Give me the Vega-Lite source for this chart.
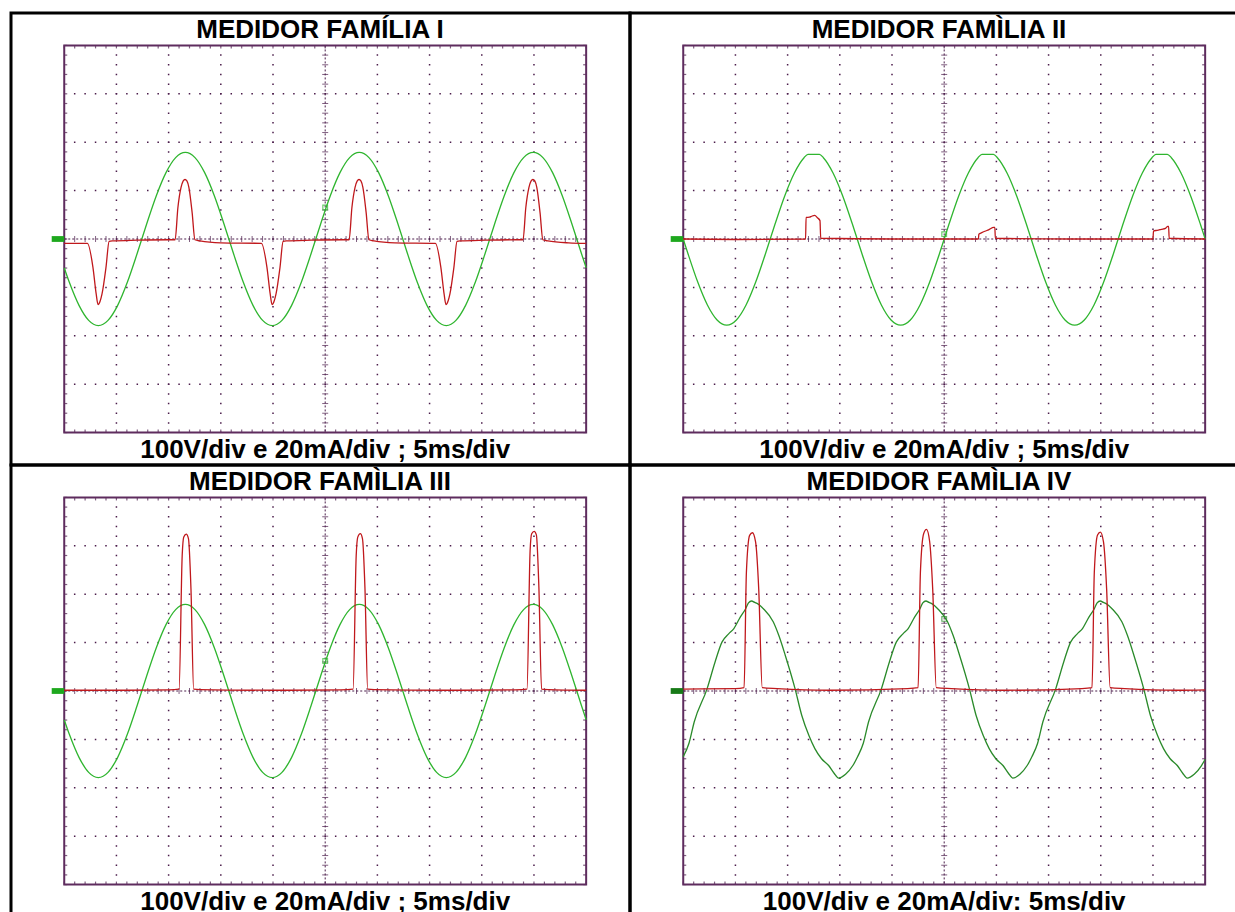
{
"$schema":"https://vega.github.io/schema/vega-lite/v6.json",
"background":"white",
"padding":{"left":9,"top":11,"right":0,"bottom":0},
"autosize":{"type":"pad"},
"config":{"view":{"stroke":"black","strokeWidth":3}},
"columns":2,
"spacing":0,
"bounds":"flush",
"datasets":{
"gridv":[{"t":5},{"t":10},{"t":15},{"t":20},{"t":30},{"t":35},{"t":40},{"t":45}],
"gridh":[{"d":-3},{"d":-2},{"d":-1},{"d":1},{"d":2},{"d":3}],
"tx":[{"t":0},{"t":1},{"t":2},{"t":3},{"t":4},{"t":5},{"t":6},{"t":7},{"t":8},{"t":9},{"t":10},{"t":11},{"t":12},{"t":13},{"t":14},{"t":15},{"t":16},{"t":17},{"t":18},{"t":19},{"t":20},{"t":21},{"t":22},{"t":23},{"t":24},{"t":25},{"t":26},{"t":27},{"t":28},{"t":29},{"t":30},{"t":31},{"t":32},{"t":33},{"t":34},{"t":35},{"t":36},{"t":37},{"t":38},{"t":39},{"t":40},{"t":41},{"t":42},{"t":43},{"t":44},{"t":45},{"t":46},{"t":47},{"t":48},{"t":49},{"t":50}],
"ty":[{"d":-4},{"d":-3.8},{"d":-3.6},{"d":-3.4},{"d":-3.2},{"d":-3},{"d":-2.8},{"d":-2.6},{"d":-2.4},{"d":-2.2},{"d":-2},{"d":-1.8},{"d":-1.6},{"d":-1.4},{"d":-1.2},{"d":-1},{"d":-0.8},{"d":-0.6},{"d":-0.4},{"d":-0.2},{"d":0},{"d":0.2},{"d":0.4},{"d":0.6},{"d":0.8},{"d":1},{"d":1.2},{"d":1.4},{"d":1.6},{"d":1.8},{"d":2},{"d":2.2},{"d":2.4},{"d":2.6},{"d":2.8},{"d":3},{"d":3.2},{"d":3.4},{"d":3.6},{"d":3.8},{"d":4}],
"v1":[{"t":0,"v":-59.6},{"t":0.489,"v":-89.5},{"t":1.415,"v":-137.1},{"t":2.341,"v":-168.2},{"t":3.267,"v":-179},{"t":4.193,"v":-168.2},{"t":5.119,"v":-137.1},{"t":6.044,"v":-89.5},{"t":6.97,"v":-31.1},{"t":7.896,"v":31.1},{"t":8.822,"v":89.5},{"t":9.748,"v":137.1},{"t":10.674,"v":168.2},{"t":11.6,"v":179},{"t":12.526,"v":168.2},{"t":13.452,"v":137.1},{"t":14.378,"v":89.5},{"t":15.304,"v":31.1},{"t":16.23,"v":-31.1},{"t":17.156,"v":-89.5},{"t":18.081,"v":-137.1},{"t":19.007,"v":-168.2},{"t":19.933,"v":-179},{"t":20.859,"v":-168.2},{"t":21.785,"v":-137.1},{"t":22.711,"v":-89.5},{"t":23.637,"v":-31.1},{"t":24.563,"v":31.1},{"t":25.489,"v":89.5},{"t":26.415,"v":137.1},{"t":27.341,"v":168.2},{"t":28.267,"v":179},{"t":29.193,"v":168.2},{"t":30.119,"v":137.1},{"t":31.044,"v":89.5},{"t":31.97,"v":31.1},{"t":32.896,"v":-31.1},{"t":33.822,"v":-89.5},{"t":34.748,"v":-137.1},{"t":35.674,"v":-168.2},{"t":36.6,"v":-179},{"t":37.526,"v":-168.2},{"t":38.452,"v":-137.1},{"t":39.378,"v":-89.5},{"t":40.304,"v":-31.1},{"t":41.23,"v":31.1},{"t":42.156,"v":89.5},{"t":43.081,"v":137.1},{"t":44.007,"v":168.2},{"t":44.933,"v":179},{"t":45.859,"v":168.2},{"t":46.785,"v":137.1},{"t":47.711,"v":89.5},{"t":48.637,"v":31.1},{"t":49.563,"v":-31.1},{"t":50,"v":-59.5}],
"v2":[{"t":0,"v":0},{"t":0.463,"v":-30.9},{"t":1.389,"v":-89},{"t":2.315,"v":-136.4},{"t":3.241,"v":-167.3},{"t":4.167,"v":-178},{"t":5.093,"v":-167.3},{"t":6.019,"v":-136.4},{"t":6.944,"v":-89},{"t":7.87,"v":-30.9},{"t":8.796,"v":30.9},{"t":9.722,"v":89},{"t":10.648,"v":136.4},{"t":11.574,"v":168},{"t":11.95,"v":175},{"t":13.05,"v":175},{"t":13.426,"v":168},{"t":14.352,"v":136.4},{"t":15.278,"v":89},{"t":16.204,"v":30.9},{"t":17.13,"v":-30.9},{"t":18.056,"v":-89},{"t":18.981,"v":-136.4},{"t":19.907,"v":-167.3},{"t":20.833,"v":-178},{"t":21.759,"v":-167.3},{"t":22.685,"v":-136.4},{"t":23.611,"v":-89},{"t":24.537,"v":-30.9},{"t":25.463,"v":30.9},{"t":26.389,"v":89},{"t":27.315,"v":136.4},{"t":28.241,"v":168},{"t":28.62,"v":175},{"t":29.72,"v":175},{"t":30.093,"v":168},{"t":31.019,"v":136.4},{"t":31.944,"v":89},{"t":32.87,"v":30.9},{"t":33.796,"v":-30.9},{"t":34.722,"v":-89},{"t":35.648,"v":-136.4},{"t":36.574,"v":-167.3},{"t":37.5,"v":-178},{"t":38.426,"v":-167.3},{"t":39.352,"v":-136.4},{"t":40.278,"v":-89},{"t":41.204,"v":-30.9},{"t":42.13,"v":30.9},{"t":43.056,"v":89},{"t":43.981,"v":136.4},{"t":44.907,"v":168},{"t":45.28,"v":175},{"t":46.38,"v":175},{"t":46.759,"v":168},{"t":47.685,"v":136.4},{"t":48.611,"v":89},{"t":49.537,"v":30.9},{"t":50,"v":0}],
"v4":[{"t":0,"v":-136},{"t":0.55,"v":-108},{"t":1.05,"v":-64},{"t":2.29,"v":5},{"t":3.05,"v":60},{"t":3.71,"v":101},{"t":4.35,"v":118},{"t":4.85,"v":129},{"t":5.45,"v":152},{"t":5.98,"v":170},{"t":6.25,"v":182},{"t":6.55,"v":186},{"t":6.85,"v":183},{"t":7.15,"v":180},{"t":7.68,"v":170},{"t":8.62,"v":143},{"t":9.15,"v":115},{"t":9.77,"v":74},{"t":10.71,"v":5},{"t":11.35,"v":-50},{"t":12.04,"v":-92},{"t":12.61,"v":-119},{"t":13.25,"v":-140},{"t":13.93,"v":-154},{"t":14.45,"v":-170},{"t":14.88,"v":-180},{"t":15.55,"v":-172},{"t":16.25,"v":-154},{"t":16.7,"v":-136},{"t":17.25,"v":-108},{"t":17.75,"v":-64},{"t":18.99,"v":5},{"t":19.75,"v":60},{"t":20.41,"v":101},{"t":21.05,"v":118},{"t":21.55,"v":129},{"t":22.15,"v":152},{"t":22.68,"v":170},{"t":22.95,"v":182},{"t":23.25,"v":186},{"t":23.55,"v":183},{"t":23.85,"v":180},{"t":24.38,"v":170},{"t":25.32,"v":143},{"t":25.85,"v":115},{"t":26.47,"v":74},{"t":27.41,"v":5},{"t":28.05,"v":-50},{"t":28.74,"v":-92},{"t":29.31,"v":-119},{"t":29.95,"v":-140},{"t":30.63,"v":-154},{"t":31.15,"v":-170},{"t":31.58,"v":-180},{"t":32.25,"v":-172},{"t":32.95,"v":-154},{"t":33.4,"v":-136},{"t":33.95,"v":-108},{"t":34.45,"v":-64},{"t":35.69,"v":5},{"t":36.45,"v":60},{"t":37.11,"v":101},{"t":37.75,"v":118},{"t":38.25,"v":129},{"t":38.85,"v":152},{"t":39.38,"v":170},{"t":39.65,"v":182},{"t":39.95,"v":186},{"t":40.25,"v":183},{"t":40.55,"v":180},{"t":41.08,"v":170},{"t":42.02,"v":143},{"t":42.55,"v":115},{"t":43.17,"v":74},{"t":44.11,"v":5},{"t":44.75,"v":-50},{"t":45.44,"v":-92},{"t":46.01,"v":-119},{"t":46.65,"v":-140},{"t":47.33,"v":-154},{"t":47.85,"v":-170},{"t":48.28,"v":-180},{"t":48.95,"v":-172},{"t":49.65,"v":-154},{"t":50,"v":-141}],
"i1":[{"t":0,"i":-1.8},{"t":2.22,"i":-1.8},{"t":2.75,"i":-11.7},{"t":3.06,"i":-22.7},{"t":3.24,"i":-27.1},{"t":3.45,"i":-25.5},{"t":3.62,"i":-22.7},{"t":4.0,"i":-11.7},{"t":4.3,"i":-1.0},{"t":4.6,"i":-0.8},{"t":7.0,"i":-0.5},{"t":10.0,"i":-0.3},{"t":10.62,"i":-0.3},{"t":10.89,"i":13},{"t":11.19,"i":21.3},{"t":11.4,"i":24},{"t":11.57,"i":24.6},{"t":11.75,"i":24},{"t":11.94,"i":21.3},{"t":12.25,"i":11},{"t":12.52,"i":-0.3},{"t":13.0,"i":-0.8},{"t":15.0,"i":-1.6},{"t":18.89,"i":-1.8},{"t":19.42,"i":-11.7},{"t":19.73,"i":-22.7},{"t":19.91,"i":-27.1},{"t":20.12,"i":-25.5},{"t":20.29,"i":-22.7},{"t":20.67,"i":-11.7},{"t":20.97,"i":-1.0},{"t":21.27,"i":-0.8},{"t":23.67,"i":-0.5},{"t":26.67,"i":-0.3},{"t":27.29,"i":-0.3},{"t":27.56,"i":13},{"t":27.86,"i":21.3},{"t":28.07,"i":24},{"t":28.24,"i":24.6},{"t":28.42,"i":24},{"t":28.61,"i":21.3},{"t":28.92,"i":11},{"t":29.19,"i":-0.3},{"t":29.67,"i":-0.8},{"t":31.67,"i":-1.6},{"t":35.56,"i":-1.8},{"t":36.08,"i":-11.7},{"t":36.39,"i":-22.7},{"t":36.57,"i":-27.1},{"t":36.78,"i":-25.5},{"t":36.95,"i":-22.7},{"t":37.33,"i":-11.7},{"t":37.63,"i":-1.0},{"t":37.93,"i":-0.8},{"t":40.33,"i":-0.5},{"t":43.33,"i":-0.3},{"t":43.95,"i":-0.3},{"t":44.22,"i":13},{"t":44.52,"i":21.3},{"t":44.73,"i":24},{"t":44.9,"i":24.6},{"t":45.08,"i":24},{"t":45.27,"i":21.3},{"t":45.58,"i":11},{"t":45.85,"i":-0.3},{"t":46.33,"i":-0.8},{"t":48.33,"i":-1.6},{"t":50,"i":-1.8}],
"i2":[{"t":0,"i":0},{"t":5,"i":-0.2},{"t":11.72,"i":0},{"t":11.77,"i":8.9},{"t":12.1,"i":9.0},{"t":12.3,"i":9.4},{"t":12.6,"i":9.8},{"t":12.85,"i":8.8},{"t":13.1,"i":7.6},{"t":13.17,"i":0.3},{"t":20,"i":0},{"t":28.28,"i":0},{"t":28.32,"i":2.0},{"t":28.6,"i":2.6},{"t":28.9,"i":3.2},{"t":29.25,"i":3.8},{"t":29.75,"i":4.8},{"t":29.85,"i":4.8},{"t":29.9,"i":0.3},{"t":37,"i":0},{"t":45.0,"i":0},{"t":45.05,"i":3.3},{"t":45.4,"i":3.6},{"t":45.8,"i":4.0},{"t":46.2,"i":4.4},{"t":46.42,"i":5.2},{"t":46.5,"i":5.2},{"t":46.55,"i":0.3},{"t":50,"i":0}],
"i3":[{"t":0,"i":0.3},{"t":5,"i":0.3},{"t":10,"i":0.5},{"t":11.0,"i":0.8},{"t":11.3,"i":56},{"t":11.45,"i":63.6},{"t":11.69,"i":64.8},{"t":11.9,"i":63},{"t":12.14,"i":42.3},{"t":12.4,"i":0.8},{"t":13,"i":0.6},{"t":20,"i":0.3},{"t":26.5,"i":0.5},{"t":27.67,"i":0.8},{"t":27.97,"i":56},{"t":28.12,"i":63.6},{"t":28.36,"i":65},{"t":28.57,"i":63},{"t":28.81,"i":42.3},{"t":29.07,"i":0.8},{"t":29.7,"i":0.6},{"t":36.7,"i":0.3},{"t":43.2,"i":0.5},{"t":44.33,"i":0.8},{"t":44.63,"i":58},{"t":44.78,"i":65},{"t":45.02,"i":66},{"t":45.23,"i":64.5},{"t":45.47,"i":43},{"t":45.73,"i":0.8},{"t":46.4,"i":0.6},{"t":50,"i":0.3}],
"i4":[{"t":0,"i":0.8},{"t":5,"i":1.0},{"t":5.83,"i":1.4},{"t":6.05,"i":49},{"t":6.36,"i":64.3},{"t":6.63,"i":65.4},{"t":6.93,"i":61.6},{"t":7.23,"i":42.3},{"t":7.57,"i":1.4},{"t":9,"i":1.0},{"t":14,"i":0.3},{"t":21.5,"i":1.0},{"t":22.5,"i":1.4},{"t":22.72,"i":49},{"t":23.03,"i":65},{"t":23.3,"i":66.8},{"t":23.6,"i":62},{"t":23.9,"i":42},{"t":24.24,"i":1.4},{"t":25.7,"i":1.0},{"t":30.7,"i":0.3},{"t":38.2,"i":1.0},{"t":39.16,"i":1.4},{"t":39.38,"i":49},{"t":39.69,"i":64.5},{"t":39.96,"i":65.7},{"t":40.26,"i":61.6},{"t":40.56,"i":42.3},{"t":40.9,"i":1.4},{"t":42.3,"i":1.0},{"t":47.3,"i":0.3},{"t":50,"i":0.5}]
},
"concat":[
{"width":619,"height":452,"resolve":{"scale":{"y":"independent"}},"layer":[
 {"layer":[
  {"data":{"name":"gridv"},"mark":{"type":"rule","color":"#4b1d4b","strokeWidth":1.5,"strokeDash":[1.5,8.18],"strokeDashOffset":0.75},"encoding":{"x":{"field":"t","type":"quantitative","scale":{"domain":[-5.1,54.2],"nice":false,"zero":false},"axis":null},"y":{"datum":4,"type":"quantitative","scale":{"domain":[-4.67,4.67],"nice":false,"zero":false},"axis":null},"y2":{"datum":-4}}},
  {"data":{"name":"gridh"},"mark":{"type":"rule","color":"#4b1d4b","strokeWidth":1.5,"strokeDash":[1.5,8.94],"strokeDashOffset":0.75},"encoding":{"x":{"datum":0,"type":"quantitative","scale":{"domain":[-5.1,54.2],"nice":false,"zero":false},"axis":null},"x2":{"datum":50},"y":{"field":"d","type":"quantitative","scale":{"domain":[-4.67,4.67],"nice":false,"zero":false},"axis":null}}},
  {"data":{"values":[{}]},"mark":{"type":"rule","color":"#4b1d4b","strokeWidth":1,"strokeDash":[2,2]},"encoding":{"x":{"datum":25,"type":"quantitative","scale":{"domain":[-5.1,54.2],"nice":false,"zero":false},"axis":null},"y":{"datum":4,"type":"quantitative","scale":{"domain":[-4.67,4.67],"nice":false,"zero":false},"axis":null},"y2":{"datum":-4}}},
  {"data":{"values":[{}]},"mark":{"type":"rule","color":"#4b1d4b","strokeWidth":1,"strokeDash":[2,2]},"encoding":{"x":{"datum":0,"type":"quantitative","scale":{"domain":[-5.1,54.2],"nice":false,"zero":false},"axis":null},"x2":{"datum":50},"y":{"datum":0,"type":"quantitative","scale":{"domain":[-4.67,4.67],"nice":false,"zero":false},"axis":null}}},
  {"data":{"name":"tx"},"mark":{"type":"tick","orient":"vertical","color":"#4b1d4b","size":6,"thickness":1},"encoding":{"x":{"field":"t","type":"quantitative","scale":{"domain":[-5.1,54.2],"nice":false,"zero":false},"axis":null},"y":{"datum":0,"type":"quantitative","scale":{"domain":[-4.67,4.67],"nice":false,"zero":false},"axis":null}}},
  {"data":{"name":"tx"},"mark":{"type":"tick","orient":"vertical","color":"#4b1d4b","size":3,"thickness":1.2,"yOffset":1.5},"encoding":{"x":{"field":"t","type":"quantitative","scale":{"domain":[-5.1,54.2],"nice":false,"zero":false},"axis":null},"y":{"datum":4,"type":"quantitative","scale":{"domain":[-4.67,4.67],"nice":false,"zero":false},"axis":null}}},
  {"data":{"name":"tx"},"mark":{"type":"tick","orient":"vertical","color":"#4b1d4b","size":3,"thickness":1.2,"yOffset":-1.5},"encoding":{"x":{"field":"t","type":"quantitative","scale":{"domain":[-5.1,54.2],"nice":false,"zero":false},"axis":null},"y":{"datum":-4,"type":"quantitative","scale":{"domain":[-4.67,4.67],"nice":false,"zero":false},"axis":null}}},
  {"data":{"name":"ty"},"mark":{"type":"tick","orient":"horizontal","color":"#4b1d4b","size":6,"thickness":1},"encoding":{"x":{"datum":25,"type":"quantitative","scale":{"domain":[-5.1,54.2],"nice":false,"zero":false},"axis":null},"y":{"field":"d","type":"quantitative","scale":{"domain":[-4.67,4.67],"nice":false,"zero":false},"axis":null}}},
  {"data":{"name":"ty"},"mark":{"type":"tick","orient":"horizontal","color":"#4b1d4b","size":3,"thickness":1.2,"xOffset":1.5},"encoding":{"x":{"datum":0,"type":"quantitative","scale":{"domain":[-5.1,54.2],"nice":false,"zero":false},"axis":null},"y":{"field":"d","type":"quantitative","scale":{"domain":[-4.67,4.67],"nice":false,"zero":false},"axis":null}}},
  {"data":{"name":"ty"},"mark":{"type":"tick","orient":"horizontal","color":"#4b1d4b","size":3,"thickness":1.2,"xOffset":-1.5},"encoding":{"x":{"datum":50,"type":"quantitative","scale":{"domain":[-5.1,54.2],"nice":false,"zero":false},"axis":null},"y":{"field":"d","type":"quantitative","scale":{"domain":[-4.67,4.67],"nice":false,"zero":false},"axis":null}}},
  {"data":{"values":[{}]},"mark":{"type":"rect","filled":false,"color":"#5e2c5e","strokeWidth":2},"encoding":{"x":{"datum":0,"type":"quantitative","scale":{"domain":[-5.1,54.2],"nice":false,"zero":false},"axis":null},"x2":{"datum":50},"y":{"datum":-4,"type":"quantitative","scale":{"domain":[-4.67,4.67],"nice":false,"zero":false},"axis":null},"y2":{"datum":4}}},
  {"data":{"values":[{}]},"mark":{"type":"rect","color":"#1ea81e"},"encoding":{"x":{"datum":-1.2,"type":"quantitative","scale":{"domain":[-5.1,54.2],"nice":false,"zero":false},"axis":null},"x2":{"datum":0},"y":{"datum":-0.06,"type":"quantitative","scale":{"domain":[-4.67,4.67],"nice":false,"zero":false},"axis":null},"y2":{"datum":0.06}}},
  {"data":{"values":[{}]},"mark":{"type":"text","text":"MEDIDOR FAMÍLIA I","font":"Liberation Sans","fontWeight":"bold","fontSize":26,"baseline":"alphabetic","align":"center","color":"black"},"encoding":{"x":{"datum":24.5,"type":"quantitative","scale":{"domain":[-5.1,54.2],"nice":false,"zero":false},"axis":null},"y":{"datum":4.16,"type":"quantitative","scale":{"domain":[-4.67,4.67],"nice":false,"zero":false},"axis":null}}},
  {"data":{"values":[{}]},"mark":{"type":"text","text":"100V/div e 20mA/div ; 5ms/div","font":"Liberation Sans","fontWeight":"bold","fontSize":26,"baseline":"alphabetic","align":"center","color":"black"},"encoding":{"x":{"datum":25,"type":"quantitative","scale":{"domain":[-5.1,54.2],"nice":false,"zero":false},"axis":null},"y":{"datum":-4.53,"type":"quantitative","scale":{"domain":[-4.67,4.67],"nice":false,"zero":false},"axis":null}}}
 ]},
 {"layer":[
  {"data":{"name":"v1"},"mark":{"type":"line","color":"#2fb52f","strokeWidth":1.3,"interpolate":"monotone"},"encoding":{"x":{"field":"t","type":"quantitative","scale":{"domain":[-5.1,54.2],"nice":false,"zero":false},"axis":null},"y":{"field":"v","type":"quantitative","scale":{"domain":[-467,467],"nice":false,"zero":false},"axis":null}}},
  {"data":{"values":[{"t":25,"v":65}]},"mark":{"type":"square","filled":false,"size":22,"color":"#2fb52f","strokeWidth":1.2},"encoding":{"x":{"field":"t","type":"quantitative","scale":{"domain":[-5.1,54.2],"nice":false,"zero":false},"axis":null},"y":{"field":"v","type":"quantitative","scale":{"domain":[-467,467],"nice":false,"zero":false},"axis":null}}}
 ]},
 {"data":{"name":"i1"},"mark":{"type":"line","color":"#c0181c","strokeWidth":1.3,"interpolate":"monotone"},"encoding":{"x":{"field":"t","type":"quantitative","scale":{"domain":[-5.1,54.2],"nice":false,"zero":false},"axis":null},"y":{"field":"i","type":"quantitative","scale":{"domain":[-93.4,93.4],"nice":false,"zero":false},"axis":null}}}
]},
{"width":619,"height":452,"resolve":{"scale":{"y":"independent"}},"layer":[
 {"layer":[
  {"data":{"name":"gridv"},"mark":{"type":"rule","color":"#4b1d4b","strokeWidth":1.5,"strokeDash":[1.5,8.18],"strokeDashOffset":0.75},"encoding":{"x":{"field":"t","type":"quantitative","scale":{"domain":[-5.1,54.2],"nice":false,"zero":false},"axis":null},"y":{"datum":4,"type":"quantitative","scale":{"domain":[-4.67,4.67],"nice":false,"zero":false},"axis":null},"y2":{"datum":-4}}},
  {"data":{"name":"gridh"},"mark":{"type":"rule","color":"#4b1d4b","strokeWidth":1.5,"strokeDash":[1.5,8.94],"strokeDashOffset":0.75},"encoding":{"x":{"datum":0,"type":"quantitative","scale":{"domain":[-5.1,54.2],"nice":false,"zero":false},"axis":null},"x2":{"datum":50},"y":{"field":"d","type":"quantitative","scale":{"domain":[-4.67,4.67],"nice":false,"zero":false},"axis":null}}},
  {"data":{"values":[{}]},"mark":{"type":"rule","color":"#4b1d4b","strokeWidth":1,"strokeDash":[2,2]},"encoding":{"x":{"datum":25,"type":"quantitative","scale":{"domain":[-5.1,54.2],"nice":false,"zero":false},"axis":null},"y":{"datum":4,"type":"quantitative","scale":{"domain":[-4.67,4.67],"nice":false,"zero":false},"axis":null},"y2":{"datum":-4}}},
  {"data":{"values":[{}]},"mark":{"type":"rule","color":"#4b1d4b","strokeWidth":1,"strokeDash":[2,2]},"encoding":{"x":{"datum":0,"type":"quantitative","scale":{"domain":[-5.1,54.2],"nice":false,"zero":false},"axis":null},"x2":{"datum":50},"y":{"datum":0,"type":"quantitative","scale":{"domain":[-4.67,4.67],"nice":false,"zero":false},"axis":null}}},
  {"data":{"name":"tx"},"mark":{"type":"tick","orient":"vertical","color":"#4b1d4b","size":6,"thickness":1},"encoding":{"x":{"field":"t","type":"quantitative","scale":{"domain":[-5.1,54.2],"nice":false,"zero":false},"axis":null},"y":{"datum":0,"type":"quantitative","scale":{"domain":[-4.67,4.67],"nice":false,"zero":false},"axis":null}}},
  {"data":{"name":"tx"},"mark":{"type":"tick","orient":"vertical","color":"#4b1d4b","size":3,"thickness":1.2,"yOffset":1.5},"encoding":{"x":{"field":"t","type":"quantitative","scale":{"domain":[-5.1,54.2],"nice":false,"zero":false},"axis":null},"y":{"datum":4,"type":"quantitative","scale":{"domain":[-4.67,4.67],"nice":false,"zero":false},"axis":null}}},
  {"data":{"name":"tx"},"mark":{"type":"tick","orient":"vertical","color":"#4b1d4b","size":3,"thickness":1.2,"yOffset":-1.5},"encoding":{"x":{"field":"t","type":"quantitative","scale":{"domain":[-5.1,54.2],"nice":false,"zero":false},"axis":null},"y":{"datum":-4,"type":"quantitative","scale":{"domain":[-4.67,4.67],"nice":false,"zero":false},"axis":null}}},
  {"data":{"name":"ty"},"mark":{"type":"tick","orient":"horizontal","color":"#4b1d4b","size":6,"thickness":1},"encoding":{"x":{"datum":25,"type":"quantitative","scale":{"domain":[-5.1,54.2],"nice":false,"zero":false},"axis":null},"y":{"field":"d","type":"quantitative","scale":{"domain":[-4.67,4.67],"nice":false,"zero":false},"axis":null}}},
  {"data":{"name":"ty"},"mark":{"type":"tick","orient":"horizontal","color":"#4b1d4b","size":3,"thickness":1.2,"xOffset":1.5},"encoding":{"x":{"datum":0,"type":"quantitative","scale":{"domain":[-5.1,54.2],"nice":false,"zero":false},"axis":null},"y":{"field":"d","type":"quantitative","scale":{"domain":[-4.67,4.67],"nice":false,"zero":false},"axis":null}}},
  {"data":{"name":"ty"},"mark":{"type":"tick","orient":"horizontal","color":"#4b1d4b","size":3,"thickness":1.2,"xOffset":-1.5},"encoding":{"x":{"datum":50,"type":"quantitative","scale":{"domain":[-5.1,54.2],"nice":false,"zero":false},"axis":null},"y":{"field":"d","type":"quantitative","scale":{"domain":[-4.67,4.67],"nice":false,"zero":false},"axis":null}}},
  {"data":{"values":[{}]},"mark":{"type":"rect","filled":false,"color":"#5e2c5e","strokeWidth":2},"encoding":{"x":{"datum":0,"type":"quantitative","scale":{"domain":[-5.1,54.2],"nice":false,"zero":false},"axis":null},"x2":{"datum":50},"y":{"datum":-4,"type":"quantitative","scale":{"domain":[-4.67,4.67],"nice":false,"zero":false},"axis":null},"y2":{"datum":4}}},
  {"data":{"values":[{}]},"mark":{"type":"rect","color":"#1ea81e"},"encoding":{"x":{"datum":-1.2,"type":"quantitative","scale":{"domain":[-5.1,54.2],"nice":false,"zero":false},"axis":null},"x2":{"datum":0},"y":{"datum":-0.06,"type":"quantitative","scale":{"domain":[-4.67,4.67],"nice":false,"zero":false},"axis":null},"y2":{"datum":0.06}}},
  {"data":{"values":[{}]},"mark":{"type":"text","text":"MEDIDOR FAMÌLIA II","font":"Liberation Sans","fontWeight":"bold","fontSize":26,"baseline":"alphabetic","align":"center","color":"black"},"encoding":{"x":{"datum":24.5,"type":"quantitative","scale":{"domain":[-5.1,54.2],"nice":false,"zero":false},"axis":null},"y":{"datum":4.16,"type":"quantitative","scale":{"domain":[-4.67,4.67],"nice":false,"zero":false},"axis":null}}},
  {"data":{"values":[{}]},"mark":{"type":"text","text":"100V/div e 20mA/div ; 5ms/div","font":"Liberation Sans","fontWeight":"bold","fontSize":26,"baseline":"alphabetic","align":"center","color":"black"},"encoding":{"x":{"datum":25,"type":"quantitative","scale":{"domain":[-5.1,54.2],"nice":false,"zero":false},"axis":null},"y":{"datum":-4.53,"type":"quantitative","scale":{"domain":[-4.67,4.67],"nice":false,"zero":false},"axis":null}}}
 ]},
 {"layer":[
  {"data":{"name":"v2"},"mark":{"type":"line","color":"#2fb52f","strokeWidth":1.3,"interpolate":"monotone"},"encoding":{"x":{"field":"t","type":"quantitative","scale":{"domain":[-5.1,54.2],"nice":false,"zero":false},"axis":null},"y":{"field":"v","type":"quantitative","scale":{"domain":[-467,467],"nice":false,"zero":false},"axis":null}}},
  {"data":{"values":[{"t":25,"v":10}]},"mark":{"type":"square","filled":false,"size":22,"color":"#2fb52f","strokeWidth":1.2},"encoding":{"x":{"field":"t","type":"quantitative","scale":{"domain":[-5.1,54.2],"nice":false,"zero":false},"axis":null},"y":{"field":"v","type":"quantitative","scale":{"domain":[-467,467],"nice":false,"zero":false},"axis":null}}}
 ]},
 {"data":{"name":"i2"},"mark":{"type":"line","color":"#c0181c","strokeWidth":1.3,"interpolate":"monotone"},"encoding":{"x":{"field":"t","type":"quantitative","scale":{"domain":[-5.1,54.2],"nice":false,"zero":false},"axis":null},"y":{"field":"i","type":"quantitative","scale":{"domain":[-93.4,93.4],"nice":false,"zero":false},"axis":null}}}
]},
{"width":619,"height":452,"resolve":{"scale":{"y":"independent"}},"layer":[
 {"layer":[
  {"data":{"name":"gridv"},"mark":{"type":"rule","color":"#4b1d4b","strokeWidth":1.5,"strokeDash":[1.5,8.18],"strokeDashOffset":0.75},"encoding":{"x":{"field":"t","type":"quantitative","scale":{"domain":[-5.1,54.2],"nice":false,"zero":false},"axis":null},"y":{"datum":4,"type":"quantitative","scale":{"domain":[-4.67,4.67],"nice":false,"zero":false},"axis":null},"y2":{"datum":-4}}},
  {"data":{"name":"gridh"},"mark":{"type":"rule","color":"#4b1d4b","strokeWidth":1.5,"strokeDash":[1.5,8.94],"strokeDashOffset":0.75},"encoding":{"x":{"datum":0,"type":"quantitative","scale":{"domain":[-5.1,54.2],"nice":false,"zero":false},"axis":null},"x2":{"datum":50},"y":{"field":"d","type":"quantitative","scale":{"domain":[-4.67,4.67],"nice":false,"zero":false},"axis":null}}},
  {"data":{"values":[{}]},"mark":{"type":"rule","color":"#4b1d4b","strokeWidth":1,"strokeDash":[2,2]},"encoding":{"x":{"datum":25,"type":"quantitative","scale":{"domain":[-5.1,54.2],"nice":false,"zero":false},"axis":null},"y":{"datum":4,"type":"quantitative","scale":{"domain":[-4.67,4.67],"nice":false,"zero":false},"axis":null},"y2":{"datum":-4}}},
  {"data":{"values":[{}]},"mark":{"type":"rule","color":"#4b1d4b","strokeWidth":1,"strokeDash":[2,2]},"encoding":{"x":{"datum":0,"type":"quantitative","scale":{"domain":[-5.1,54.2],"nice":false,"zero":false},"axis":null},"x2":{"datum":50},"y":{"datum":0,"type":"quantitative","scale":{"domain":[-4.67,4.67],"nice":false,"zero":false},"axis":null}}},
  {"data":{"name":"tx"},"mark":{"type":"tick","orient":"vertical","color":"#4b1d4b","size":6,"thickness":1},"encoding":{"x":{"field":"t","type":"quantitative","scale":{"domain":[-5.1,54.2],"nice":false,"zero":false},"axis":null},"y":{"datum":0,"type":"quantitative","scale":{"domain":[-4.67,4.67],"nice":false,"zero":false},"axis":null}}},
  {"data":{"name":"tx"},"mark":{"type":"tick","orient":"vertical","color":"#4b1d4b","size":3,"thickness":1.2,"yOffset":1.5},"encoding":{"x":{"field":"t","type":"quantitative","scale":{"domain":[-5.1,54.2],"nice":false,"zero":false},"axis":null},"y":{"datum":4,"type":"quantitative","scale":{"domain":[-4.67,4.67],"nice":false,"zero":false},"axis":null}}},
  {"data":{"name":"tx"},"mark":{"type":"tick","orient":"vertical","color":"#4b1d4b","size":3,"thickness":1.2,"yOffset":-1.5},"encoding":{"x":{"field":"t","type":"quantitative","scale":{"domain":[-5.1,54.2],"nice":false,"zero":false},"axis":null},"y":{"datum":-4,"type":"quantitative","scale":{"domain":[-4.67,4.67],"nice":false,"zero":false},"axis":null}}},
  {"data":{"name":"ty"},"mark":{"type":"tick","orient":"horizontal","color":"#4b1d4b","size":6,"thickness":1},"encoding":{"x":{"datum":25,"type":"quantitative","scale":{"domain":[-5.1,54.2],"nice":false,"zero":false},"axis":null},"y":{"field":"d","type":"quantitative","scale":{"domain":[-4.67,4.67],"nice":false,"zero":false},"axis":null}}},
  {"data":{"name":"ty"},"mark":{"type":"tick","orient":"horizontal","color":"#4b1d4b","size":3,"thickness":1.2,"xOffset":1.5},"encoding":{"x":{"datum":0,"type":"quantitative","scale":{"domain":[-5.1,54.2],"nice":false,"zero":false},"axis":null},"y":{"field":"d","type":"quantitative","scale":{"domain":[-4.67,4.67],"nice":false,"zero":false},"axis":null}}},
  {"data":{"name":"ty"},"mark":{"type":"tick","orient":"horizontal","color":"#4b1d4b","size":3,"thickness":1.2,"xOffset":-1.5},"encoding":{"x":{"datum":50,"type":"quantitative","scale":{"domain":[-5.1,54.2],"nice":false,"zero":false},"axis":null},"y":{"field":"d","type":"quantitative","scale":{"domain":[-4.67,4.67],"nice":false,"zero":false},"axis":null}}},
  {"data":{"values":[{}]},"mark":{"type":"rect","filled":false,"color":"#5e2c5e","strokeWidth":2},"encoding":{"x":{"datum":0,"type":"quantitative","scale":{"domain":[-5.1,54.2],"nice":false,"zero":false},"axis":null},"x2":{"datum":50},"y":{"datum":-4,"type":"quantitative","scale":{"domain":[-4.67,4.67],"nice":false,"zero":false},"axis":null},"y2":{"datum":4}}},
  {"data":{"values":[{}]},"mark":{"type":"rect","color":"#1ea81e"},"encoding":{"x":{"datum":-1.2,"type":"quantitative","scale":{"domain":[-5.1,54.2],"nice":false,"zero":false},"axis":null},"x2":{"datum":0},"y":{"datum":-0.06,"type":"quantitative","scale":{"domain":[-4.67,4.67],"nice":false,"zero":false},"axis":null},"y2":{"datum":0.06}}},
  {"data":{"values":[{}]},"mark":{"type":"text","text":"MEDIDOR FAMÌLIA III","font":"Liberation Sans","fontWeight":"bold","fontSize":26,"baseline":"alphabetic","align":"center","color":"black"},"encoding":{"x":{"datum":24.5,"type":"quantitative","scale":{"domain":[-5.1,54.2],"nice":false,"zero":false},"axis":null},"y":{"datum":4.16,"type":"quantitative","scale":{"domain":[-4.67,4.67],"nice":false,"zero":false},"axis":null}}},
  {"data":{"values":[{}]},"mark":{"type":"text","text":"100V/div e 20mA/div ; 5ms/div","font":"Liberation Sans","fontWeight":"bold","fontSize":26,"baseline":"alphabetic","align":"center","color":"black"},"encoding":{"x":{"datum":25,"type":"quantitative","scale":{"domain":[-5.1,54.2],"nice":false,"zero":false},"axis":null},"y":{"datum":-4.53,"type":"quantitative","scale":{"domain":[-4.67,4.67],"nice":false,"zero":false},"axis":null}}}
 ]},
 {"layer":[
  {"data":{"name":"v1"},"mark":{"type":"line","color":"#2fb52f","strokeWidth":1.3,"interpolate":"monotone"},"encoding":{"x":{"field":"t","type":"quantitative","scale":{"domain":[-5.1,54.2],"nice":false,"zero":false},"axis":null},"y":{"field":"v","type":"quantitative","scale":{"domain":[-467,467],"nice":false,"zero":false},"axis":null}}},
  {"data":{"values":[{"t":25,"v":62}]},"mark":{"type":"square","filled":false,"size":22,"color":"#2fb52f","strokeWidth":1.2},"encoding":{"x":{"field":"t","type":"quantitative","scale":{"domain":[-5.1,54.2],"nice":false,"zero":false},"axis":null},"y":{"field":"v","type":"quantitative","scale":{"domain":[-467,467],"nice":false,"zero":false},"axis":null}}}
 ]},
 {"data":{"name":"i3"},"mark":{"type":"line","color":"#c0181c","strokeWidth":1.3,"interpolate":"monotone"},"encoding":{"x":{"field":"t","type":"quantitative","scale":{"domain":[-5.1,54.2],"nice":false,"zero":false},"axis":null},"y":{"field":"i","type":"quantitative","scale":{"domain":[-93.4,93.4],"nice":false,"zero":false},"axis":null}}}
]},
{"width":619,"height":452,"resolve":{"scale":{"y":"independent"}},"layer":[
 {"layer":[
  {"data":{"name":"gridv"},"mark":{"type":"rule","color":"#4b1d4b","strokeWidth":1.5,"strokeDash":[1.5,8.18],"strokeDashOffset":0.75},"encoding":{"x":{"field":"t","type":"quantitative","scale":{"domain":[-5.1,54.2],"nice":false,"zero":false},"axis":null},"y":{"datum":4,"type":"quantitative","scale":{"domain":[-4.67,4.67],"nice":false,"zero":false},"axis":null},"y2":{"datum":-4}}},
  {"data":{"name":"gridh"},"mark":{"type":"rule","color":"#4b1d4b","strokeWidth":1.5,"strokeDash":[1.5,8.94],"strokeDashOffset":0.75},"encoding":{"x":{"datum":0,"type":"quantitative","scale":{"domain":[-5.1,54.2],"nice":false,"zero":false},"axis":null},"x2":{"datum":50},"y":{"field":"d","type":"quantitative","scale":{"domain":[-4.67,4.67],"nice":false,"zero":false},"axis":null}}},
  {"data":{"values":[{}]},"mark":{"type":"rule","color":"#4b1d4b","strokeWidth":1,"strokeDash":[2,2]},"encoding":{"x":{"datum":25,"type":"quantitative","scale":{"domain":[-5.1,54.2],"nice":false,"zero":false},"axis":null},"y":{"datum":4,"type":"quantitative","scale":{"domain":[-4.67,4.67],"nice":false,"zero":false},"axis":null},"y2":{"datum":-4}}},
  {"data":{"values":[{}]},"mark":{"type":"rule","color":"#4b1d4b","strokeWidth":1,"strokeDash":[2,2]},"encoding":{"x":{"datum":0,"type":"quantitative","scale":{"domain":[-5.1,54.2],"nice":false,"zero":false},"axis":null},"x2":{"datum":50},"y":{"datum":0,"type":"quantitative","scale":{"domain":[-4.67,4.67],"nice":false,"zero":false},"axis":null}}},
  {"data":{"name":"tx"},"mark":{"type":"tick","orient":"vertical","color":"#4b1d4b","size":6,"thickness":1},"encoding":{"x":{"field":"t","type":"quantitative","scale":{"domain":[-5.1,54.2],"nice":false,"zero":false},"axis":null},"y":{"datum":0,"type":"quantitative","scale":{"domain":[-4.67,4.67],"nice":false,"zero":false},"axis":null}}},
  {"data":{"name":"tx"},"mark":{"type":"tick","orient":"vertical","color":"#4b1d4b","size":3,"thickness":1.2,"yOffset":1.5},"encoding":{"x":{"field":"t","type":"quantitative","scale":{"domain":[-5.1,54.2],"nice":false,"zero":false},"axis":null},"y":{"datum":4,"type":"quantitative","scale":{"domain":[-4.67,4.67],"nice":false,"zero":false},"axis":null}}},
  {"data":{"name":"tx"},"mark":{"type":"tick","orient":"vertical","color":"#4b1d4b","size":3,"thickness":1.2,"yOffset":-1.5},"encoding":{"x":{"field":"t","type":"quantitative","scale":{"domain":[-5.1,54.2],"nice":false,"zero":false},"axis":null},"y":{"datum":-4,"type":"quantitative","scale":{"domain":[-4.67,4.67],"nice":false,"zero":false},"axis":null}}},
  {"data":{"name":"ty"},"mark":{"type":"tick","orient":"horizontal","color":"#4b1d4b","size":6,"thickness":1},"encoding":{"x":{"datum":25,"type":"quantitative","scale":{"domain":[-5.1,54.2],"nice":false,"zero":false},"axis":null},"y":{"field":"d","type":"quantitative","scale":{"domain":[-4.67,4.67],"nice":false,"zero":false},"axis":null}}},
  {"data":{"name":"ty"},"mark":{"type":"tick","orient":"horizontal","color":"#4b1d4b","size":3,"thickness":1.2,"xOffset":1.5},"encoding":{"x":{"datum":0,"type":"quantitative","scale":{"domain":[-5.1,54.2],"nice":false,"zero":false},"axis":null},"y":{"field":"d","type":"quantitative","scale":{"domain":[-4.67,4.67],"nice":false,"zero":false},"axis":null}}},
  {"data":{"name":"ty"},"mark":{"type":"tick","orient":"horizontal","color":"#4b1d4b","size":3,"thickness":1.2,"xOffset":-1.5},"encoding":{"x":{"datum":50,"type":"quantitative","scale":{"domain":[-5.1,54.2],"nice":false,"zero":false},"axis":null},"y":{"field":"d","type":"quantitative","scale":{"domain":[-4.67,4.67],"nice":false,"zero":false},"axis":null}}},
  {"data":{"values":[{}]},"mark":{"type":"rect","filled":false,"color":"#5e2c5e","strokeWidth":2},"encoding":{"x":{"datum":0,"type":"quantitative","scale":{"domain":[-5.1,54.2],"nice":false,"zero":false},"axis":null},"x2":{"datum":50},"y":{"datum":-4,"type":"quantitative","scale":{"domain":[-4.67,4.67],"nice":false,"zero":false},"axis":null},"y2":{"datum":4}}},
  {"data":{"values":[{}]},"mark":{"type":"rect","color":"#177a17"},"encoding":{"x":{"datum":-1.2,"type":"quantitative","scale":{"domain":[-5.1,54.2],"nice":false,"zero":false},"axis":null},"x2":{"datum":0},"y":{"datum":-0.06,"type":"quantitative","scale":{"domain":[-4.67,4.67],"nice":false,"zero":false},"axis":null},"y2":{"datum":0.06}}},
  {"data":{"values":[{}]},"mark":{"type":"text","text":"MEDIDOR FAMÌLIA IV","font":"Liberation Sans","fontWeight":"bold","fontSize":26,"baseline":"alphabetic","align":"center","color":"black"},"encoding":{"x":{"datum":24.5,"type":"quantitative","scale":{"domain":[-5.1,54.2],"nice":false,"zero":false},"axis":null},"y":{"datum":4.16,"type":"quantitative","scale":{"domain":[-4.67,4.67],"nice":false,"zero":false},"axis":null}}},
  {"data":{"values":[{}]},"mark":{"type":"text","text":"100V/div e 20mA/div: 5ms/div","font":"Liberation Sans","fontWeight":"bold","fontSize":26,"baseline":"alphabetic","align":"center","color":"black"},"encoding":{"x":{"datum":25,"type":"quantitative","scale":{"domain":[-5.1,54.2],"nice":false,"zero":false},"axis":null},"y":{"datum":-4.53,"type":"quantitative","scale":{"domain":[-4.67,4.67],"nice":false,"zero":false},"axis":null}}}
 ]},
 {"layer":[
  {"data":{"name":"v4"},"mark":{"type":"line","color":"#2a8a2a","strokeWidth":1.3,"interpolate":"monotone"},"encoding":{"x":{"field":"t","type":"quantitative","scale":{"domain":[-5.1,54.2],"nice":false,"zero":false},"axis":null},"y":{"field":"v","type":"quantitative","scale":{"domain":[-467,467],"nice":false,"zero":false},"axis":null}}},
  {"data":{"values":[{"t":25,"v":149}]},"mark":{"type":"square","filled":false,"size":22,"color":"#2a8a2a","strokeWidth":1.2},"encoding":{"x":{"field":"t","type":"quantitative","scale":{"domain":[-5.1,54.2],"nice":false,"zero":false},"axis":null},"y":{"field":"v","type":"quantitative","scale":{"domain":[-467,467],"nice":false,"zero":false},"axis":null}}}
 ]},
 {"data":{"name":"i4"},"mark":{"type":"line","color":"#c0181c","strokeWidth":1.3,"interpolate":"monotone"},"encoding":{"x":{"field":"t","type":"quantitative","scale":{"domain":[-5.1,54.2],"nice":false,"zero":false},"axis":null},"y":{"field":"i","type":"quantitative","scale":{"domain":[-93.4,93.4],"nice":false,"zero":false},"axis":null}}}
]}
]
}
